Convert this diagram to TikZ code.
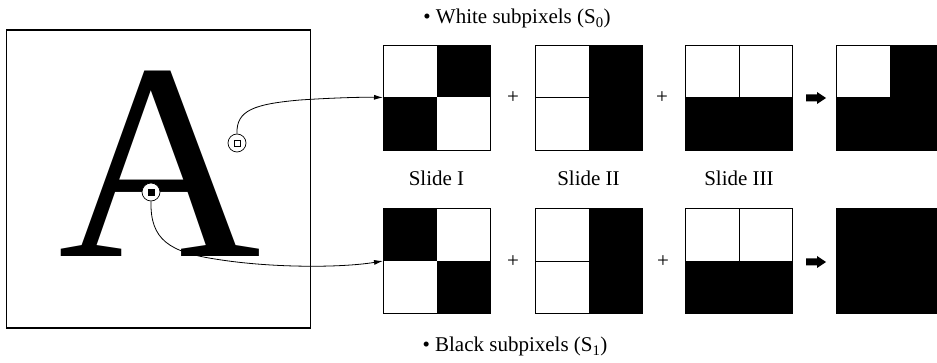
\documentclass[tikz,border=0pt]{standalone}
\usepackage{fontspec}
\setmainfont{Liberation Serif}
\usetikzlibrary{arrows.meta}

\tikzset{
  cell/.style={draw, line width=0.8pt, minimum width=107pt, minimum height=105pt,
               inner sep=0pt, outer sep=0pt},
  probe/.style={circle, draw, line width=0.7pt, fill=white, minimum size=18pt,
                inner sep=0pt},
  probecore/.style={draw, line width=0.8pt, minimum size=6pt, inner sep=0pt},
  label/.style={font=\fontsize{21}{24}\selectfont, inner sep=0pt, anchor=base},
  plus/.style={font=\fontsize{21}{24}\selectfont, inner sep=0pt},
  link/.style={line width=0.8pt, -{Latex[length=9pt,width=5pt]}},
  bigarrow/.style={fill=black},
}

\begin{document}
\begin{tikzpicture}[x=1pt, y=-1pt]
\useasboundingbox (0,0) rectangle (937,363);
\clip (0,0) rectangle (937,363);

% framed letter
\node[draw, line width=1.1pt, minimum width=304pt, minimum height=298pt,
      inner sep=0pt] (frame) at (158.5,179) {};
\node[inner sep=0pt, anchor=base, font=\fontsize{281}{281}\selectfont]
      (letter) at (160,257) {A};

% sample points
\node[probe] (c1) at (237,143) {};
\node[probecore] (c1in) at (c1) {};
\node[probe] (c2) at (151,192) {};
\node[probecore, fill=black] (c2in) at (c2) {};

% white pixel row
\node[cell] (t1) at (436.5,97.5) {};
\fill (t1.north) rectangle (t1.east);
\fill (t1.west) rectangle (t1.south);
\node[cell] (t2) at (588.5,97.5) {};
\fill (t2.north) rectangle (t2.south east);
\draw[line width=0.8pt] (t2.west) -- (t2.center);
\node[cell] (t3) at (739,97.5) {};
\fill (t3.west) rectangle (t3.south east);
\draw[line width=0.8pt] (t3.north) -- (t3.center);
\node[cell] (t4) at (889.5,97.5) {};
\fill (t4.north) rectangle (t4.south east);
\fill (t4.west) rectangle (t4.south);

% black pixel row
\node[cell] (b1) at (436.5,261) {};
\fill (b1.north west) rectangle (b1.center);
\fill (b1.center) rectangle (b1.south east);
\node[cell] (b2) at (588.5,261) {};
\fill (b2.north) rectangle (b2.south east);
\draw[line width=0.8pt] (b2.west) -- (b2.center);
\node[cell] (b3) at (739,261) {};
\fill (b3.west) rectangle (b3.south east);
\draw[line width=0.8pt] (b3.north) -- (b3.center);
\node[cell, fill=black] (b4) at (889.5,261) {};

% plus signs
\node[plus] (p1) at (513,98) {+};
\node[plus] (p2) at (662,98) {+};
\node[plus] (p3) at (513,262) {+};
\node[plus] (p4) at (663,262) {+};

% result arrows
\coordinate (ra) at (806,98);
\coordinate (rb) at (806,262);
\foreach \o in {ra,rb}{
  \fill[bigarrow] (\o) ++(0,-3.5) -- ++(11,0) -- ++(0,-2.5) -- ++(9,6)
        -- ++(-9,6) -- ++(0,-2.5) -- ++(-11,0) -- cycle;
}

% labels
\node[label] (lw) at (517,24) {\textbullet\ White subpixels (S\textsubscript{0})};
\node[label] (lb) at (515,352) {\textbullet\ Black subpixels (S\textsubscript{1})};
\node[label] (s1) at (436.5,186) {Slide I};
\node[label] (s2) at (588.5,186) {Slide II};
\node[label] (s3) at (739,186) {Slide III};

% connectors from sample points to their subpixel patterns
\draw[link] (c1.north) .. controls (236,110) and (255,104) .. (300,100)
            .. controls (330,98) and (360,97) .. (t1.west);
\draw[link] (c2.south) .. controls (150,240) and (170,252) .. (215,259)
            .. controls (270,268) and (340,268) .. (b1.west);
\end{tikzpicture}
\end{document}
